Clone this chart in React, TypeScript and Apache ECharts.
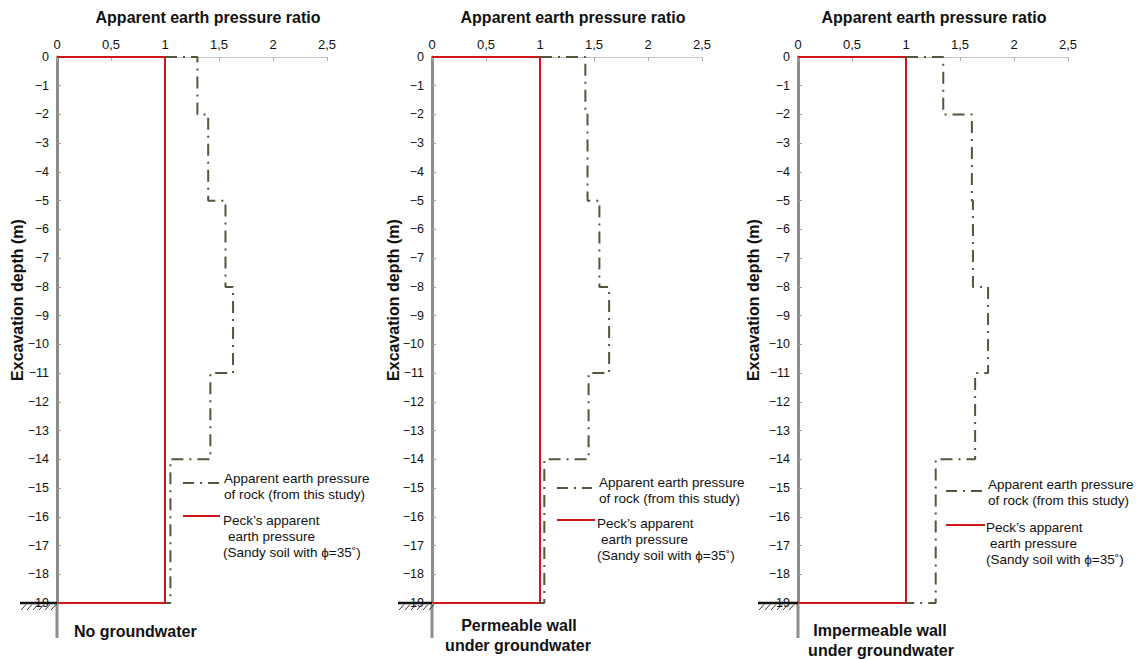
import React, { useEffect, useRef } from "react";
import * as echarts from "echarts";

// ---- data ----
const layerTops = [0, -2, -5, -8, -11, -14];
const layerBottoms = [-2, -5, -8, -11, -14, -19];
const rockNoGroundwater = [1.3, 1.4, 1.56, 1.63, 1.42, 1.05];
const rockPermeable = [1.42, 1.44, 1.55, 1.64, 1.45, 1.04];
const rockImpermeable = [1.345, 1.61, 1.62, 1.76, 1.64, 1.275];
const peckRatio = 1.0;
const excavationBottom = -19;
const xMin = 0;
const xMax = 2.5;
const xStep = 0.5;
const yMin = -19;
const yMax = 0;
const yStep = 1;
const rockLegend = ["Apparent earth pressure", "of rock (from this study)"];
const peckLegend = ["Peck\u2019s apparent", "earth pressure", "(Sandy soil with \u03D5=35\u02DA)"];
const panelCaptions = [["No groundwater"], ["Permeable wall", "under groundwater"], ["Impermeable wall", "under groundwater"]];
const xTitle = "Apparent earth pressure ratio";
const yTitle = "Excavation depth (m)";

const rockSets = [rockNoGroundwater, rockPermeable, rockImpermeable];

// ---- layout ----
const FONT = "'Liberation Sans', Arial, sans-serif";
const PLOT_TOP = 57;
const PLOT_H = 546;
const PLOT_W = 270;
const BOTTOM_Y = PLOT_TOP + PLOT_H;
const panels = [
  {
    left: 57, titleX: 208, yTitleX: 17, groundX: 20,
    legend: { dashX: [183, 219], dashY: 483, t1: [224, 478], t2: [224, 494], redX: [183, 220], redY: 516, p1: [223, 520], p2: [228, 536], p3: [223, 552] },
    captions: [{ x: 74, y: 631, align: "left" }],
  },
  {
    left: 432, titleX: 573, yTitleX: 393, groundX: 398,
    legend: { dashX: [557, 592], dashY: 488, t1: [599, 482], t2: [599, 498], redX: [557, 595], redY: 520, p1: [597, 523], p2: [601, 539], p3: [597, 555] },
    captions: [{ x: 519, y: 625, align: "center" }, { x: 518, y: 645, align: "center" }],
  },
  {
    left: 798, titleX: 934, yTitleX: 753, groundX: 758,
    legend: { dashX: [946, 983], dashY: 491, t1: [988, 484], t2: [988, 500], redX: [946, 985], redY: 525, p1: [986, 527], p2: [990, 543], p3: [986, 559] },
    captions: [{ x: 880, y: 630, align: "center" }, { x: 881, y: 650, align: "center" }],
  },
];

const RED = "#d0181c";
const ROCK = "#57553e";
const DASH = [12, 6, 2, 6];

function rockPoints(vals: number[]) {
  const pts: number[][] = [[peckRatio, 0]];
  vals.forEach((v, i) => {
    pts.push([v, layerTops[i]]);
    pts.push([v, layerBottoms[i]]);
  });
  pts.push([peckRatio, excavationBottom]);
  return pts;
}

const peckPoints = [
  [0, 0],
  [peckRatio, 0],
  [peckRatio, excavationBottom],
  [0, excavationBottom],
];

function text(x: number, y: number, s: string, size: number, bold: boolean, align = "left", extra: any = {}) {
  return {
    type: "text",
    x,
    y,
    z: 50,
    ...extra,
    style: {
      text: s,
      fontSize: size,
      fontWeight: bold ? "bold" : "normal",
      fontFamily: FONT,
      fill: "#111",
      textAlign: align,
      textVerticalAlign: "middle",
    },
  };
}

function line(x1: number, y1: number, x2: number, y2: number, stroke: string, w: number, dash?: number[], z = 50) {
  return {
    type: "line",
    z,
    shape: { x1, y1, x2, y2 },
    style: { stroke, lineWidth: w, lineDash: dash },
  };
}

function buildGraphics() {
  const g: any[] = [];
  panels.forEach((p) => {
    g.push(text(p.titleX, 17, xTitle, 16, true, "center"));
    g.push(text(p.yTitleX, 300, yTitle, 16, true, "center", { rotation: Math.PI / 2 }));
    // axis line extension below plot
    g.push(line(p.left, BOTTOM_Y, p.left, 638, "#8c8c8c", 3));
    // ground symbol
    g.push(line(p.groundX, BOTTOM_Y, p.left, BOTTOM_Y, "#111", 2.5, undefined, 100));
    for (let k = 0; k < 6; k++) {
      const hx = p.groundX + 1 + k * 6;
      g.push(line(hx, BOTTOM_Y + 7, hx + 5, BOTTOM_Y + 1.5, "#333", 1, undefined, 100));
    }
    // legend
    const L = p.legend;
    g.push(line(L.dashX[0], L.dashY, L.dashX[1], L.dashY, ROCK, 2, [11, 6, 2, 6]));
    g.push(text(L.t1[0], L.t1[1], rockLegend[0], 13.5, false));
    g.push(text(L.t2[0], L.t2[1], rockLegend[1], 13.5, false));
    g.push(line(L.redX[0], L.redY, L.redX[1], L.redY, RED, 2));
    g.push(text(L.p1[0], L.p1[1], peckLegend[0], 13.5, false));
    g.push(text(L.p2[0], L.p2[1], peckLegend[1], 13.5, false));
    g.push(text(L.p3[0], L.p3[1], peckLegend[2], 13.5, false));
  });
  panelCaptions.forEach((lines, i) => {
    lines.forEach((s, j) => {
      const c = panels[i].captions[j];
      g.push(text(c.x, c.y, s, 16, true, c.align));
    });
  });
  return g;
}

export default function App() {
  const ref = useRef<HTMLDivElement>(null);
  useEffect(() => {
    if (!ref.current) return;
    const chart = echarts.init(ref.current, undefined, { renderer: "svg" });
    const option: any = {
      animation: false,
      backgroundColor: "#ffffff",
      grid: panels.map((p) => ({ left: p.left, top: PLOT_TOP, width: PLOT_W, height: PLOT_H, containLabel: false })),
      xAxis: panels.map((_, i) => ({
        type: "value",
        gridIndex: i,
        position: "top",
        min: xMin,
        max: xMax,
        interval: xStep,
        axisLine: { show: true, onZero: false, lineStyle: { color: "#c4c4c4", width: 1 } },
        axisTick: { show: true, inside: true, length: 4, lineStyle: { color: "#b0b0b0" } },
        axisLabel: {
          margin: 6,
          fontSize: 13,
          color: "#111",
          fontFamily: FONT,
          formatter: (v: number) => String(v).replace(".", ","),
        },
        splitLine: { show: false },
      })),
      yAxis: panels.map((_, i) => ({
        type: "value",
        gridIndex: i,
        min: yMin,
        max: yMax,
        interval: yStep,
        axisLine: { show: true, onZero: false, lineStyle: { color: "#8c8c8c", width: 3 } },
        axisTick: { show: true, inside: true, length: 4, lineStyle: { color: "#a0a0a0" } },
        axisLabel: {
          margin: 8,
          fontSize: 12.5,
          color: "#111",
          fontFamily: FONT,
          formatter: (v: number) => (v < 0 ? "\u2212" + Math.abs(v) : String(v)),
        },
        splitLine: { show: false },
      })),
      series: rockSets.flatMap((vals, i) => [
        {
          type: "line",
          xAxisIndex: i,
          yAxisIndex: i,
          data: peckPoints,
          showSymbol: false,
          symbol: "none",
          lineStyle: { color: RED, width: 2 },
          z: 3,
        },
        {
          type: "line",
          xAxisIndex: i,
          yAxisIndex: i,
          data: rockPoints(vals),
          showSymbol: false,
          symbol: "none",
          lineStyle: { color: ROCK, width: 2, type: DASH },
          z: 4,
        },
      ]),
      graphic: buildGraphics(),
    };
    chart.setOption(option);
    return () => chart.dispose();
  }, []);
  return <div ref={ref} style={{ position: "fixed", left: 0, top: 0, width: 1138, height: 659 }} />;
}
